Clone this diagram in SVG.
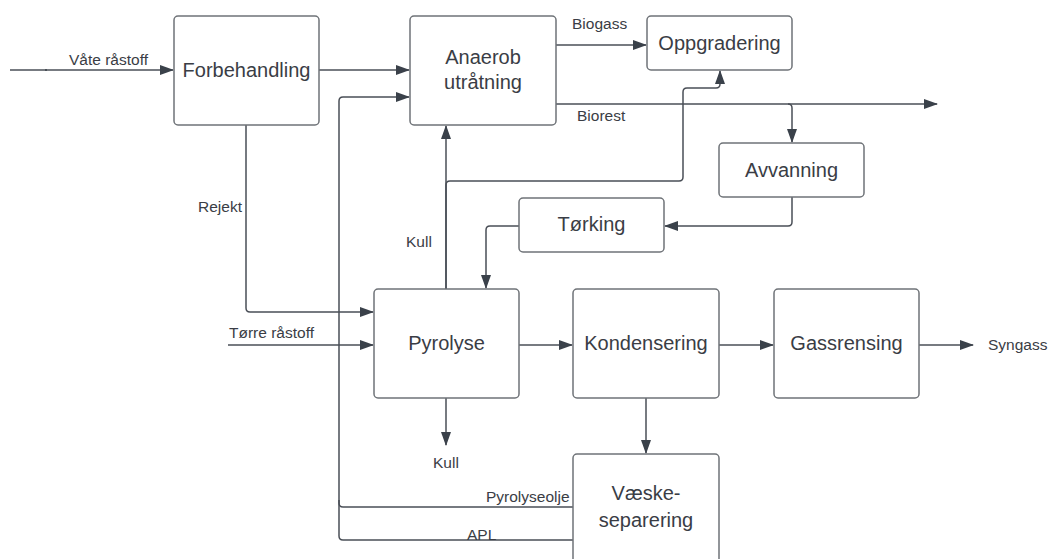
<svg xmlns="http://www.w3.org/2000/svg" width="1050" height="559" viewBox="0 0 1050 559">
<style>
.box{fill:#fff;stroke:#6f7378;stroke-width:1.5}
.nt{font-family:"Liberation Sans",Arial,sans-serif;font-size:20px;fill:#3a3d45;text-anchor:middle;dominant-baseline:central}
.lb{font-family:"Liberation Sans",Arial,sans-serif;font-size:15.5px;fill:#3a3d45}
.c{fill:none;stroke:#4a4f57;stroke-width:1.5}
</style>
<defs>
<marker id="ah" markerUnits="userSpaceOnUse" markerWidth="14" markerHeight="10" refX="13" refY="5" orient="auto">
<path d="M0,0 L14,5 L0,10 Z" fill="#3a414a"/>
</marker>
</defs>
<rect width="1050" height="559" fill="#fff"/>
<g id="connectors">
<path class="c" d="M10,70 H173" marker-end="url(#ah)"/>
<circle cx="46" cy="70" r="1" fill="#3a414a"/>
<path class="c" d="M319,70 H409" marker-end="url(#ah)"/>
<path class="c" d="M556,45 H646" marker-end="url(#ah)"/>
<path class="c" d="M556,104 H937" marker-end="url(#ah)"/>
<path class="c" d="M788,104 Q792,104 792,108 V142" marker-end="url(#ah)"/>
<path class="c" d="M792,197 V222 Q792,226 788,226 H665" marker-end="url(#ah)"/>
<path class="c" d="M519,226 H490 Q486,226 486,230 V288" marker-end="url(#ah)"/>
<path class="c" d="M446,289 V126" marker-end="url(#ah)"/>
<path class="c" d="M446,289 V185 Q446,181 450,181 H679 Q683,181 683,177 V92 Q683,88 687,88 H716 Q720,88 720,84 V71" marker-end="url(#ah)"/>
<path class="c" d="M246,125 V308 Q246,312 250,312 H373" marker-end="url(#ah)"/>
<path class="c" d="M228,345 H373" marker-end="url(#ah)"/>
<path class="c" d="M573,507 H343 Q339,507 339,503 V101 Q339,97 343,97 H409" marker-end="url(#ah)"/>
<path class="c" d="M573,540 H343 Q339,540 339,536 V500"/>
<path class="c" d="M519,345 H572" marker-end="url(#ah)"/>
<path class="c" d="M719,345 H773" marker-end="url(#ah)"/>
<path class="c" d="M919,345 H973" marker-end="url(#ah)"/>
<path class="c" d="M646,398 V453" marker-end="url(#ah)"/>
<path class="c" d="M446,398 V445" marker-end="url(#ah)"/>
<text class="lb" x="69" y="65">Våte råstoff</text>
<text class="lb" x="572" y="29">Biogass</text>
<text class="lb" x="577" y="121">Biorest</text>
<text class="lb" x="198" y="212">Rejekt</text>
<text class="lb" x="406" y="247">Kull</text>
<text class="lb" x="229" y="338">Tørre råstoff</text>
<text class="lb" x="433" y="468">Kull</text>
<text class="lb" x="486" y="502">Pyrolyseolje</text>
<text class="lb" x="467" y="540">APL</text>
<text class="lb" x="988" y="350">Syngass</text>
</g>
<g id="forbehandling"><rect class="box" x="174" y="16" width="145" height="109" rx="4"/><text class="nt" x="246.5" y="70">Forbehandling</text></g>
<g id="anaerob"><rect class="box" x="410" y="16" width="146" height="109" rx="4"/><text class="nt" x="483" y="57">Anaerob</text><text class="nt" x="483" y="82">utråtning</text></g>
<g id="oppgradering"><rect class="box" x="647" y="16" width="145" height="54" rx="4"/><text class="nt" x="719.5" y="43">Oppgradering</text></g>
<g id="avvanning"><rect class="box" x="719" y="143" width="145" height="54" rx="4"/><text class="nt" x="791.5" y="170">Avvanning</text></g>
<g id="torking"><rect class="box" x="519" y="198" width="145" height="54" rx="4"/><text class="nt" x="591.5" y="224">Tørking</text></g>
<g id="pyrolyse"><rect class="box" x="374" y="289" width="145" height="109" rx="4"/><text class="nt" x="446.5" y="343">Pyrolyse</text></g>
<g id="kondensering"><rect class="box" x="573" y="289" width="146" height="109" rx="4"/><text class="nt" x="646" y="343">Kondensering</text></g>
<g id="gassrensing"><rect class="box" x="774" y="289" width="145" height="109" rx="4"/><text class="nt" x="846.5" y="343">Gassrensing</text></g>
<g id="vaeskeseparering"><rect class="box" x="573" y="454" width="146" height="115" rx="4"/><text class="nt" x="646" y="493">Væske-</text><text class="nt" x="646" y="520">separering</text></g>
</svg>
